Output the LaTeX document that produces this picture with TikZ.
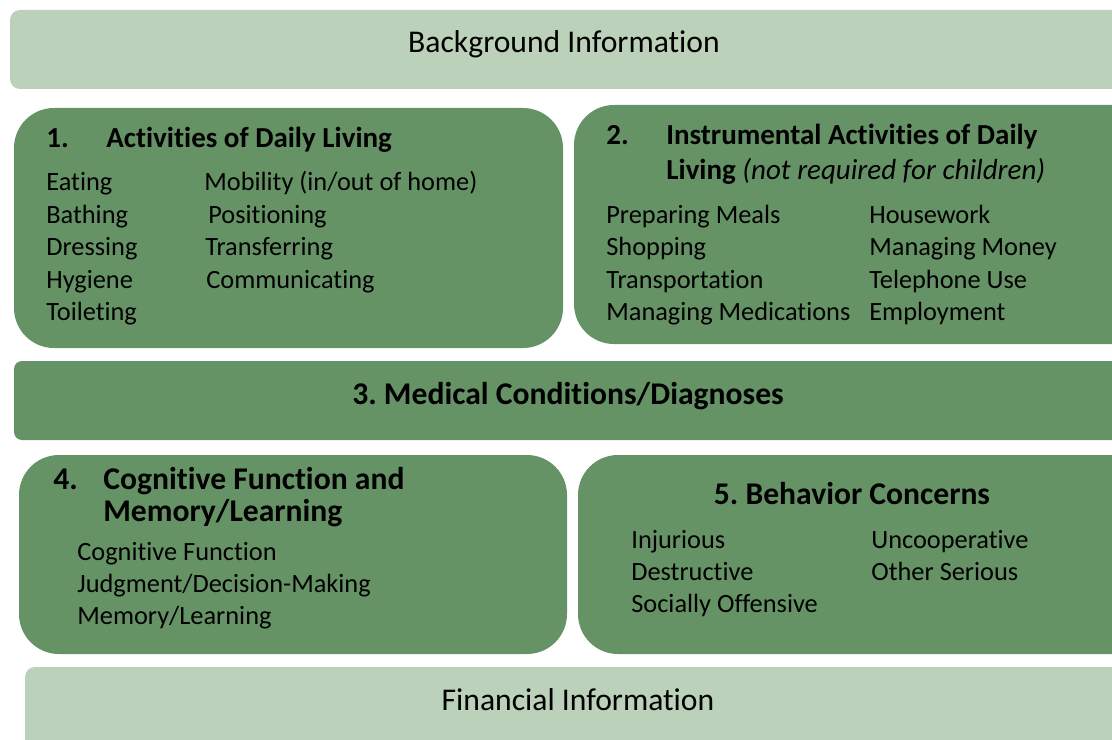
\documentclass[tikz,border=0pt]{standalone}
\usepackage{fontspec}
\setmainfont{Carlito}[Ligatures=NoCommon]
\frenchspacing
\definecolor{lightgreen}{HTML}{BCD1BA}
\definecolor{darkgreen}{HTML}{669366}
\tikzset{
  band/.style={fill=lightgreen, rounded corners=0.2cm},
  box/.style={fill=darkgreen, rounded corners=0.8cm},
  bandtext/.style={anchor=base, inner sep=0pt, font=\fontsize{18}{22}\selectfont},
  item/.style={anchor=base west, inner sep=0pt, font=\fontsize{15}{18}\selectfont},
  head/.style={anchor=base west, inner sep=0pt, font=\fontsize{16.5}{20}\selectfont\bfseries},
  bighead/.style={inner sep=0pt, font=\fontsize{18}{22}\selectfont\bfseries},
}
\begin{document}
\begin{tikzpicture}[x=0.02cm,y=-0.02cm]
  \useasboundingbox (0,0) rectangle (1112,740);
  \clip (0,0) rectangle (1112,740);
  % Baender
  \fill[band] (10,10) rectangle (1140,89);
  \fill[box, rounded corners=0.16cm] (14,361) rectangle (1140,440);
  \fill[band] (25,667) rectangle (1140,770);
  % Kaesten
  \fill[box] (14,108) rectangle (563,348);
  \fill[box] (574,105) rectangle (1160,344);
  \fill[box] (19,455) rectangle (567,654);
  \fill[box] (578,455) rectangle (1160,654);
  \node[bandtext] (bginfo) at (564,53) {Background Information};
  \node[bandtext] (fininfo) at (578,710) {Financial Information};
  % 1. ADL
  \node[head] (adlnum) at (46,148) {1.};
  \node[head] (adl) at (106,148) {Activities of Daily Living};
  \foreach \x/\y/\t [count=\i] in {46/190/Eating, 46/223/Bathing, 46/255/Dressing,
      46/288/Hygiene, 46/320/Toileting, 204/190/{Mobility (in/out of home)},
      208/223/Positioning, 205/255/Transferring, 206/288/Communicating}
    \node[item] (adl\i) at (\x,\y) {\t};
  % 2. IADL
  \node[head] (iadlnum) at (606,144) {2.};
  \node[head] (iadl) at (666,144) {Instrumental Activities of Daily};
  \node[head] (iadlb) at (666,179) {Living {\normalfont\itshape (not required for children)}};
  \foreach \x/\y/\t [count=\i] in {606/223/Preparing Meals, 606/255/Shopping,
      606/288/Transportation, 606/320/Managing Medications, 869/223/Housework,
      869/255/Managing Money, 869/288/Telephone Use, 869/320/Employment}
    \node[item] (iadl\i) at (\x,\y) {\t};
  % 3. Medical
  \node[bighead, anchor=base] (medical) at (568,404) {3. Medical Conditions/Diagnoses};
  % 4. Cognitive
  \node[bighead, anchor=base west] (cognum) at (53,489) {4.};
  \node[bighead, anchor=base west] (cog) at (103,489) {Cognitive Function and};
  \node[bighead, anchor=base west] (cogb) at (103,521) {Memory/Learning};
  \foreach \y/\t [count=\i] in {560/Cognitive Function, 592/{Judgment/Decision-Making},
      624/{Memory/Learning}}
    \node[item] (cog\i) at (77,\y) {\t};
  % 5. Behavior
  \node[bighead, anchor=base] (behav) at (852,504) {5. Behavior Concerns};
  \foreach \x/\y/\t [count=\i] in {631/548/Injurious, 631/580/Destructive,
      631/612/Socially Offensive, 871/548/Uncooperative, 871/580/Other Serious}
    \node[item] (behav\i) at (\x,\y) {\t};
\end{tikzpicture}
\end{document}
